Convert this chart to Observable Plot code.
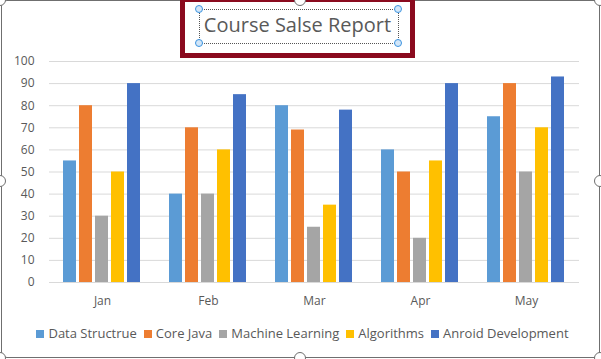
<!DOCTYPE html>
<html>
<head>
<meta charset="utf-8">
<script src="https://cdn.jsdelivr.net/npm/d3@7"></script>
<script src="https://cdn.jsdelivr.net/npm/@observablehq/plot@0.6"></script>
<style>
  html, body { margin: 0; padding: 0; background: #fff; }
  #wrap { position: relative; width: 601px; height: 359px; overflow: hidden; background: #fff; font-family: "Open Sans", sans-serif; }
  #chart { position: absolute; left: 0; top: 0; }
  .frame { position: absolute; left: 1px; top: 0px; border: 1.5px solid #6f6f6f; border-radius: 6px; box-sizing: border-box; width: 599px; height: 358px; }
  .handle { position: absolute; width: 12px; height: 12px; border-radius: 50%; background: #fff; border: 1.5px solid #6f6f6f; box-sizing: border-box; }
  .redbox { position: absolute; left: 180px; top: -3px; width: 235px; height: 61px; border: 5px solid #8a0a1e; box-sizing: border-box; background: #fff; }
  .textbox { position: absolute; left: 199px; top: 9px; width: 200px; height: 35px; border: 1px dotted #555; box-sizing: border-box; }
  .bh { position: absolute; width: 8px; height: 8px; border-radius: 50%; background: #d2e6f8; border: 1px solid #3d94e0; box-sizing: border-box; }
  #title { position: absolute; left: 180px; width: 235px; top: 13px; text-align: center; font-size: 20px; line-height: 24px; color: #595959; white-space: nowrap; }
  #legend { position: absolute; left: 2px; width: 601px; top: 325px; display: flex; justify-content: center; font-size: 13px; line-height: 17px; color: #595959; white-space: nowrap; }
  #legend .item { display: flex; align-items: flex-start; margin: 0 3.5px; }
  #legend .sw { width: 8px; height: 8px; margin-top: 5px; margin-right: 4px; }
</style>
</head>
<body>
<div id="wrap">
  <div id="chart"></div>
  <div class="frame"></div>
  <div class="redbox"></div>
  <div class="textbox"></div>
  <div id="title"></div>
  <div id="legend"></div>
</div>
<script>
const months = ["Jan", "Feb", "Mar", "Apr", "May"];
const series = ["Data Structrue", "Core Java", "Machine Learning", "Algorithms", "Anroid Development"];
const dataStructrue = [55, 40, 80, 60, 75];
const coreJava = [80, 70, 69, 50, 90];
const machineLearning = [30, 40, 25, 20, 50];
const algorithms = [50, 60, 35, 55, 70];
const anroidDevelopment = [90, 85, 78, 90, 93];
const colors = ["#5B9BD5", "#ED7D31", "#A5A5A5", "#FFC000", "#4472C4"];
const yTicks = [0, 10, 20, 30, 40, 50, 60, 70, 80, 90, 100];
const titleText = "Course Salse Report";

const seriesValues = [dataStructrue, coreJava, machineLearning, algorithms, anroidDevelopment];
const rows = [];
months.forEach((m, i) => {
  series.forEach((s, j) => rows.push({month: m, series: s, value: seriesValues[j][i]}));
});

const chart = Plot.plot({
  width: 601,
  height: 315,
  marginLeft: 47,
  marginRight: 21,
  marginTop: 61,
  marginBottom: 33,
  style: {fontFamily: "'Open Sans', sans-serif", fontSize: "12px", color: "#595959", background: "transparent"},
  fx: {domain: months, padding: 0, axis: "bottom", tickSize: 0, tickPadding: 14, label: null},
  x: {domain: series, axis: null, paddingInner: 0.18, paddingOuter: 0.82},
  y: {domain: [0, 100], ticks: yTicks, tickSize: 0, tickPadding: 15, label: null},
  color: {domain: series, range: colors},
  marks: [
    Plot.ruleY(yTicks, {stroke: "#D9D9D9", strokeWidth: 1}),
    Plot.barY(rows, {fx: "month", x: "series", y: "value", fill: "series"})
  ]
});
document.getElementById("chart").appendChild(chart);

document.getElementById("title").textContent = titleText;

const legend = document.getElementById("legend");
series.forEach((s, i) => {
  const item = document.createElement("div");
  item.className = "item";
  const sw = document.createElement("div");
  sw.className = "sw";
  sw.style.background = colors[i];
  const t = document.createElement("span");
  t.textContent = s;
  item.appendChild(sw);
  item.appendChild(t);
  legend.appendChild(item);
});

// selection handles (decorative)
const wrap = document.getElementById("wrap");
[[0,0],[300,0],[600,0],[0,181],[600,181],[0,358],[300,358],[600,358]].forEach(([x,y]) => {
  const h = document.createElement("div");
  h.className = "handle";
  h.style.left = (x - 6) + "px";
  h.style.top = (y - 6) + "px";
  wrap.appendChild(h);
});
[[199,9],[398,9],[199,43],[398,43]].forEach(([x,y]) => {
  const h = document.createElement("div");
  h.className = "bh";
  h.style.left = (x - 4) + "px";
  h.style.top = (y - 4) + "px";
  wrap.appendChild(h);
});
</script>
</body>
</html>
